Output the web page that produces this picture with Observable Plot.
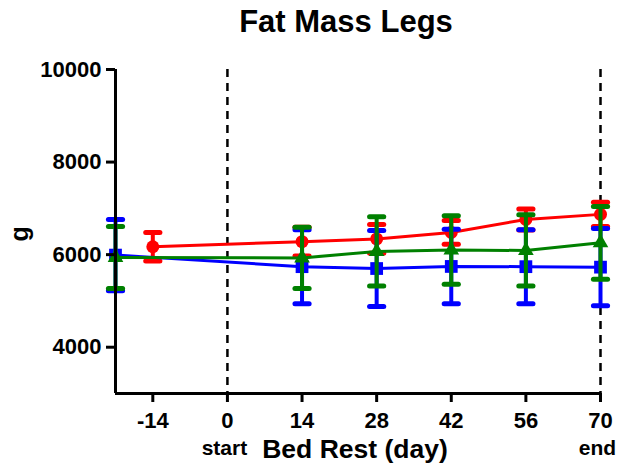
<!DOCTYPE html>
<html>
<head>
<meta charset="utf-8">
<script src="https://cdn.jsdelivr.net/npm/d3@7"></script>
<script src="https://cdn.jsdelivr.net/npm/@observablehq/plot@0.6"></script>
<style>
  html, body { margin: 0; padding: 0; background: #fff; }
  #chart svg { display: block; }
</style>
</head>
<body>
<div id="chart"></div>
<script>
// Fat mass of the legs (g) over the bed-rest campaign, three groups, mean ± error
const xTicks = [-14, 0, 14, 28, 42, 56, 70];
const yTicks = [4000, 6000, 8000, 10000];
const phaseMarks = [0, 70];
const phaseLabels = ["start", "end"];

const redDays  = [-14, 14, 28, 42, 56, 70];
const redMean  = [6170, 6280, 6340, 6480, 6760, 6870];
const redErr   = [310, 310, 310, 255, 225, 260];

const blueDays = [-21, 14, 28, 42, 56, 70];
const blueMean = [5990, 5740, 5700, 5745, 5740, 5730];
const blueErr  = [770, 800, 820, 805, 800, 835];

const greenDays = [-21, 14, 28, 42, 56, 70];
const greenMean = [5940, 5930, 6070, 6100, 6090, 6255];
const greenErr  = [670, 660, 750, 740, 770, 785];

const series = [
  {color: "#ff0000", symbol: "circle",   r: 6.5, days: redDays,   mean: redMean,   err: redErr},
  {color: "#0000ff", symbol: "square",   r: 7.2, days: blueDays,  mean: blueMean,  err: blueErr},
  {color: "#008000", symbol: "triangle", r: 5.8, days: greenDays, mean: greenMean, err: greenErr}
];

// horizontal error-bar cap
const cap = {
  draw(context, size) {
    const w = Math.sqrt(size);
    context.moveTo(-w, 0);
    context.lineTo(w, 0);
  }
};

const font = '"Liberation Sans", Arial, Helvetica, sans-serif';
const plain = d => String(d);

const seriesMarks = series.flatMap(s => {
  const rows = s.days.map((d, i) => ({day: d, mean: s.mean[i], lo: s.mean[i] - s.err[i], hi: s.mean[i] + s.err[i]}));
  return [
    Plot.line(rows, {x: "day", y: "mean", stroke: s.color, strokeWidth: 3}),
    Plot.ruleX(rows, {x: "day", y1: "lo", y2: "hi", stroke: s.color, strokeWidth: 4}),
    Plot.dot(rows, {x: "day", y: "hi", symbol: cap, r: 4, fill: "none", stroke: s.color, strokeWidth: 5, strokeLinecap: "round"}),
    Plot.dot(rows, {x: "day", y: "lo", symbol: cap, r: 4, fill: "none", stroke: s.color, strokeWidth: 5, strokeLinecap: "round"}),
    Plot.dot(rows, {x: "day", y: "mean", symbol: s.symbol, r: s.r, fill: s.color, stroke: "none"})
  ];
});

const chart = Plot.plot({
  width: 620,
  height: 469,
  marginLeft: 115,
  marginRight: 20,
  marginTop: 69,
  marginBottom: 76,
  style: {fontFamily: font, fontWeight: "bold", background: "#fff", color: "#000", overflow: "visible"},
  x: {domain: [-21, 70]},
  y: {domain: [3000, 10000]},
  marks: [
    Plot.ruleX(phaseMarks, {stroke: "#000", strokeWidth: 2.5, strokeDasharray: "8,6"}),
    ...seriesMarks,
    Plot.axisY(yTicks, {tickSize: 9, tickPadding: 5, tickFormat: plain, fontSize: 22, fontWeight: "bold", strokeWidth: 3, label: null}),
    Plot.axisX(xTicks, {tickSize: 9, tickPadding: 10, tickFormat: plain, fontSize: 22, fontWeight: "bold", strokeWidth: 3, label: null}),
    Plot.ruleX([-21], {stroke: "#000", strokeWidth: 3}),
    Plot.ruleY([3000], {stroke: "#000", strokeWidth: 3}),
    Plot.text(phaseMarks, {x: d => d, text: (d, i) => phaseLabels[i], frameAnchor: "bottom", dx: -3, dy: 61, fontSize: 21, fontWeight: "bold", fill: "#000"}),
    Plot.text(["Bed Rest (day)"], {frameAnchor: "bottom", dx: -3, dy: 64, fontSize: 26.5, fontWeight: "bold", fill: "#000"}),
    Plot.text(["g"], {frameAnchor: "left", dx: -96, dy: 10, rotate: -90, fontSize: 25, fontWeight: "bold", fill: "#000"}),
    Plot.text(["Fat Mass Legs"], {frameAnchor: "top", dx: -12, dy: -60, fontSize: 31, fontWeight: "bold", fill: "#000"})
  ]
});

document.getElementById("chart").appendChild(chart);
</script>
</body>
</html>
